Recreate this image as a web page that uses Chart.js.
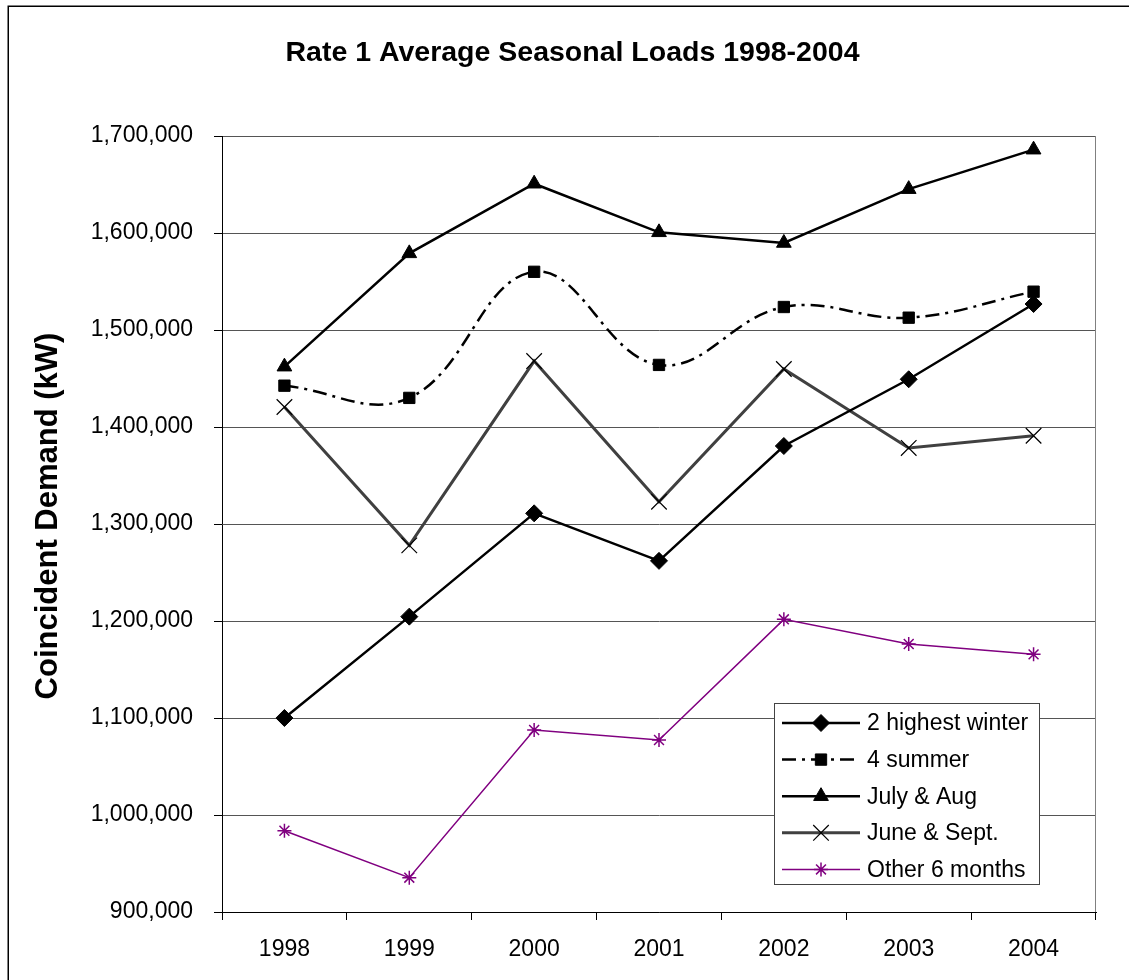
<!DOCTYPE html>
<html>
<head>
<meta charset="utf-8">
<title>Rate 1 Average Seasonal Loads 1998-2004</title>
<script src="https://cdn.jsdelivr.net/npm/chart.js@4/dist/chart.umd.min.js"></script>
<style>
  html, body { margin: 0; padding: 0; background: #fff; }
  #wrap { position: relative; width: 1129px; height: 980px; }
  canvas { display: block; }
</style>
</head>
<body>
<div id="wrap"><canvas id="c" width="1129" height="980"></canvas></div>
<script>
// Category labels (years)
const years = ['1998', '1999', '2000', '2001', '2002', '2003', '2004'];

// Coincident demand (kW) per season group
const highestWinter = [1100000, 1204500, 1311000, 1262000, 1380400, 1449200, 1526800];
const fourSummer    = [1442600, 1430000, 1560000, 1464000, 1523700, 1512700, 1539500];
const julyAug       = [1462200, 1579000, 1650800, 1600700, 1589700, 1645200, 1685900];
const juneSept      = [1420600, 1278000, 1468000, 1323000, 1459800, 1378400, 1391000];
const otherMonths   = [983800, 935400, 1087600, 1077300, 1201700, 1176300, 1165600];

// Series names and captions
const seriesNames = ['2 highest winter', '4 summer', 'July & Aug', 'June & Sept.', 'Other 6 months'];
const chartTitle = 'Rate 1 Average Seasonal Loads 1998-2004';
const yAxisTitle = 'Coincident Demand (kW)';

// Value axis range and step
const yMin = 900000;
const yMax = 1700000;
const yStep = 100000;

const FONT = "'Liberation Sans', Arial, Helvetica, sans-serif";
Chart.defaults.font.family = FONT;
Chart.defaults.color = '#000';

// White page, outer frame line, chart title, value-axis title and grey right edge of the plot
const framePlugin = {
  id: 'frame',
  beforeDraw(chart) {
    const {ctx, chartArea} = chart;
    ctx.save();
    ctx.fillStyle = '#fff';
    ctx.fillRect(0, 0, chart.width, chart.height);
    ctx.strokeStyle = '#000';
    ctx.lineWidth = 1.5;
    ctx.strokeRect(8.25, 6.25, chart.width + 50, chart.height + 50);

    // chart title
    ctx.fillStyle = '#000';
    ctx.textAlign = 'center';
    ctx.textBaseline = 'middle';
    ctx.font = 'bold 28.5px ' + FONT;
    ctx.fillText(chartTitle, chart.width / 2 + 8, 53);

    // value-axis title, rotated
    ctx.save();
    ctx.translate(48, (chartArea.top + chartArea.bottom) / 2 - 8);
    ctx.rotate(-Math.PI / 2);
    ctx.font = 'bold 31px ' + FONT;
    ctx.fillText(yAxisTitle, 0, 0);
    ctx.restore();
    ctx.restore();
  },
  beforeDatasetsDraw(chart) {
    const {ctx, chartArea} = chart;
    ctx.save();
    ctx.strokeStyle = '#808080';
    ctx.lineWidth = 1;
    ctx.beginPath();
    ctx.moveTo(Math.round(chartArea.right) - 0.5, chartArea.top);
    ctx.lineTo(Math.round(chartArea.right) - 0.5, chartArea.bottom);
    ctx.stroke();
    ctx.restore();
  }
};

// Boxed legend inside the lower-right of the plot area
const boxLegend = {
  id: 'boxLegend',
  afterDraw(chart) {
    const {ctx, chartArea} = chart;
    const bx = chartArea.right - 322;
    const by = chartArea.bottom - 209;
    const bw = 265, bh = 181;
    ctx.save();
    ctx.fillStyle = '#fff';
    ctx.fillRect(bx, by, bw, bh);
    ctx.strokeStyle = '#444';
    ctx.lineWidth = 1;
    ctx.strokeRect(bx + 0.5, by + 0.5, bw, bh);

    ctx.font = '23px ' + FONT;
    ctx.textBaseline = 'middle';
    ctx.textAlign = 'left';
    chart.data.datasets.forEach((ds, i) => {
      const cy = by + 20 + i * 36.6;
      const x1 = bx + 8, x2 = bx + 86, mx = bx + 47;
      ctx.save();
      ctx.strokeStyle = ds.borderColor;
      ctx.lineWidth = ds.borderWidth;
      ctx.setLineDash(ds.borderDash || []);
      ctx.beginPath();
      ctx.moveTo(x1, cy);
      ctx.lineTo(x2, cy);
      ctx.stroke();
      ctx.setLineDash([]);
      ctx.fillStyle = ds.pointBackgroundColor;
      ctx.strokeStyle = ds.pointBorderColor;
      ctx.lineWidth = ds.pointBorderWidth;
      Chart.helpers.drawPoint(ctx, {
        pointStyle: ds.pointStyle,
        radius: ds.pointRadius,
        rotation: 0,
        borderWidth: ds.pointBorderWidth
      }, mx, cy);
      ctx.restore();
      ctx.fillStyle = '#000';
      ctx.fillText(ds.label, bx + 93, cy + 1);
    });
    ctx.restore();
  }
};

const chart = new Chart(document.getElementById('c'), {
  type: 'line',
  data: {
    labels: years,
    datasets: [
      {
        label: seriesNames[0],
        data: highestWinter,
        borderColor: '#000',
        borderWidth: 2.5,
        pointStyle: 'rectRot',
        pointRadius: 8.5,
        pointBackgroundColor: '#000',
        pointBorderColor: '#000',
        pointBorderWidth: 1,
        tension: 0
      },
      {
        label: seriesNames[1],
        data: fourSummer,
        borderColor: '#000',
        borderWidth: 2.5,
        borderDash: [14, 6, 3, 6],
        pointStyle: 'rect',
        pointRadius: 8,
        pointBackgroundColor: '#000',
        pointBorderColor: '#000',
        pointBorderWidth: 1,
        tension: 0.4
      },
      {
        label: seriesNames[2],
        data: julyAug,
        borderColor: '#000',
        borderWidth: 2.5,
        pointStyle: 'triangle',
        pointRadius: 8.5,
        pointBackgroundColor: '#000',
        pointBorderColor: '#000',
        pointBorderWidth: 1,
        tension: 0
      },
      {
        label: seriesNames[3],
        data: juneSept,
        borderColor: '#404040',
        borderWidth: 3,
        pointStyle: 'crossRot',
        pointRadius: 11,
        pointBackgroundColor: '#000',
        pointBorderColor: '#000',
        pointBorderWidth: 1.2,
        tension: 0
      },
      {
        label: seriesNames[4],
        data: otherMonths,
        borderColor: '#800080',
        borderWidth: 1.5,
        pointStyle: 'star',
        pointRadius: 7,
        pointBackgroundColor: '#800080',
        pointBorderColor: '#800080',
        pointBorderWidth: 1.5,
        tension: 0
      }
    ]
  },
  options: {
    responsive: false,
    animation: false,
    devicePixelRatio: 1,
    events: [],
    layout: { padding: { left: 8, right: 33, top: 136, bottom: 0 } },
    plugins: {
      legend: { display: false },
      tooltip: { enabled: false },
      title: { display: false }
    },
    scales: {
      x: {
        type: 'category',
        offset: true,
        grid: {
          offset: true,
          drawOnChartArea: false,
          drawTicks: true,
          tickLength: 8,
          tickColor: '#000'
        },
        border: { color: '#000', width: 1 },
        ticks: {
          color: '#000',
          font: { family: FONT, size: 23 },
          padding: 16,
          maxRotation: 0,
          autoSkip: false
        },
        afterFit(scale) { scale.height = 68; }
      },
      y: {
        min: yMin,
        max: yMax,
        ticks: {
          stepSize: yStep,
          color: '#000',
          font: { family: FONT, size: 23 },
          padding: 21,
          callback: (v) => Number(v).toLocaleString('en-US')
        },
        grid: { color: '#555', lineWidth: 1, tickColor: '#000', tickLength: 8 },
        border: { color: '#000', width: 1 },
        afterFit(scale) { scale.width = 214; }
      }
    }
  },
  plugins: [framePlugin, boxLegend]
});
</script>
</body>
</html>
